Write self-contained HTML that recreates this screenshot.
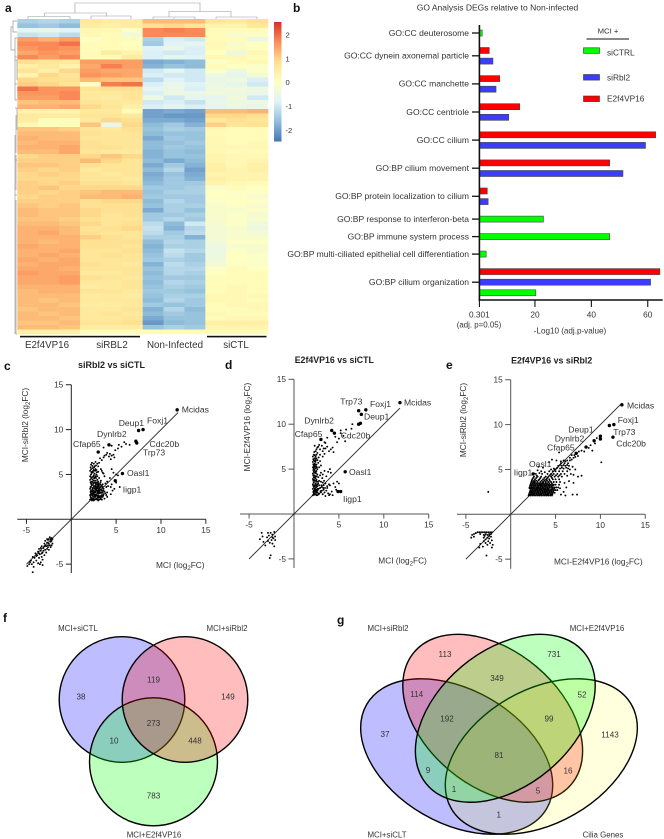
<!DOCTYPE html>
<html lang="en">
<head>
<meta charset="utf-8">
<title>Multi-panel transcriptomics figure</title>
<style>
html,body{margin:0;padding:0;background:#fff;}
svg{display:block;font-family:"Liberation Sans",Arial,sans-serif;filter:blur(.3px);}
text{fill:#333;}
.pl{font-size:12px;font-weight:bold;fill:#111;}
.g{font-size:8.6px;}
.t{font-weight:bold;fill:#222;}
.vl{font-size:7.9px;text-anchor:middle;}
.vn{font-size:8.1px;text-anchor:middle;fill:#333;}
.b{font-size:8.3px;}
</style>
</head>
<body>
<svg id="fig" width="664" height="839" viewBox="0 0 664 839" xmlns="http://www.w3.org/2000/svg">
<rect width="664" height="839" fill="#fff"/>

<!-- panel letters -->
<text class="pl" x="5" y="12">a</text>
<text class="pl" x="293" y="12">b</text>
<text class="pl" x="4" y="370">c</text>
<text class="pl" x="225" y="369">d</text>
<text class="pl" x="446" y="369">e</text>
<text class="pl" x="3" y="622">f</text>
<text class="pl" x="337" y="624">g</text>

<!-- panel a -->
<g id="heatmap"></g>
<g fill="none" stroke="#999" stroke-width="0.6">
<path d="M75 13V3H200V11.5M44.7 16.5V13H106.7V16.5M28 19V16.5H70V19M91 19V16H131V19M169 17V11.5H231V17M153 19V17H195V19M174 19V17.5M216 19V17H257V19"/>
</g>
<g fill="none" stroke="#999" stroke-width="0.7">
<path d="M17 21H13V32H17M13 27H11V50H15V38H17M15 57H17M15 60H17V80M15 50V100H17M15 84H17M15 108H17V130M16 115V153M16 155V190M15 135V195H17M15 160H17M16 200V334H17M15 195V334"/>
</g>
<defs>
<linearGradient id="cbar" x1="0" y1="1" x2="0" y2="0">
<stop offset="0" stop-color="#4575B4"/><stop offset="0.1667" stop-color="#91BFDB"/><stop offset="0.3333" stop-color="#E0F3F8"/><stop offset="0.5" stop-color="#FFFFBF"/><stop offset="0.6667" stop-color="#FEE090"/><stop offset="0.8333" stop-color="#FC8D59"/><stop offset="1" stop-color="#D73027"/>
</linearGradient>
</defs>
<rect x="274" y="22" width="7.5" height="119.5" fill="url(#cbar)"/>
<g id="cbar-ticks"></g>
<rect x="20" y="335.8" width="120" height="1.6" fill="#111"/>
<rect x="207" y="335.8" width="59.5" height="1.6" fill="#111"/>
<g font-size="9.8" text-anchor="middle">
<text x="47" y="348">E2f4VP16</text>
<text x="112" y="348">siRBL2</text>
<text x="175" y="348">Non-Infected</text>
<text x="236" y="348">siCTL</text>
</g>

<!-- panel b -->
<text x="497.5" y="10.5" font-size="8.5" text-anchor="middle">GO Analysis DEGs relative to Non-infected</text>
<g id="bars"></g>
<g>
<text x="608" y="33.5" font-size="7.7" text-anchor="middle">MCI +</text>
<line x1="586.5" y1="39" x2="629" y2="39" stroke="#111" stroke-width="1"/>
<rect x="583.5" y="47.8" width="16" height="5.6" fill="#0f0" stroke="#333" stroke-width="0.6"/>
<text x="607" y="55.5" class="b">siCTRL</text>
<rect x="583.5" y="74.5" width="16" height="5.6" fill="#3c3cff" stroke="#333" stroke-width="0.6"/>
<text x="607" y="80.5" class="b">siRbl2</text>
<rect x="583.5" y="96" width="16" height="5.6" fill="#f00" stroke="#333" stroke-width="0.6"/>
<text x="607" y="101.5" class="b">E2f4VP16</text>
</g>
<text x="479" y="327.5" font-size="7.9" text-anchor="middle">(adj. p=0.05)</text>
<text x="570" y="333.5" font-size="8.1" text-anchor="middle">-Log10 (adj.p-value)</text>

<!-- panel c -->
<text class="t" font-size="9" x="111.5" y="368" text-anchor="middle">siRbl2 vs siCTL</text>
<g id="scatter-c"></g>
<text class="b" transform="rotate(-90 28 425)" x="28" y="425" text-anchor="middle">MCI-siRbl2 (log<tspan font-size="6" dy="2">2</tspan><tspan dy="-2">FC)</tspan></text>
<text class="b" x="156" y="568">MCI (log<tspan font-size="6" dy="2">2</tspan><tspan dy="-2">FC)</tspan></text>
<g class="g">
<text x="181.7" y="412.3">Mcidas</text>
<text x="147" y="423.7">Foxj1</text>
<text x="118.7" y="426">Deup1</text>
<text x="97" y="437">Dynlrb2</text>
<text x="73" y="447">Cfap65</text>
<text x="149.5" y="447">Cdc20b</text>
<text x="143" y="455.7">Trp73</text>
<text x="127" y="476">Oasl1</text>
<text x="122.7" y="492.7">Iigp1</text>
</g>

<!-- panel d -->
<text class="t" font-size="8.8" x="334.3" y="363" text-anchor="middle">E2f4VP16 vs siCTL</text>
<g id="scatter-d"></g>
<text class="b" transform="rotate(-90 250 427)" x="250" y="427" text-anchor="middle">MCI-E2f4VP16 (log<tspan font-size="6" dy="2">2</tspan><tspan dy="-2">FC)</tspan></text>
<text class="b" x="378.3" y="563.7">MCI (log<tspan font-size="6" dy="2">2</tspan><tspan dy="-2">FC)</tspan></text>
<g class="g">
<text x="404" y="405.3">Mcidas</text>
<text x="370" y="407">Foxj1</text>
<text x="340.3" y="404.3">Trp73</text>
<text x="364" y="419.3">Deup1</text>
<text x="304.3" y="423.7">Dynlrb2</text>
<text x="340.7" y="438.3">Cdc20b</text>
<text x="294.7" y="437">Cfap65</text>
<text x="349" y="475">Oasl1</text>
<text x="343" y="502">Iigp1</text>
</g>

<!-- panel e -->
<text class="t" font-size="8.8" x="551.7" y="363.3" text-anchor="middle">E2f4VP16 vs siRbl2</text>
<g id="scatter-e"></g>
<text class="b" transform="rotate(-90 466 420)" x="466" y="420" text-anchor="middle">MCI-siRbl2 (log<tspan font-size="6" dy="2">2</tspan><tspan dy="-2">FC)</tspan></text>
<text class="b" x="554" y="564.7">MCI-E2f4VP16 (log<tspan font-size="6" dy="2">2</tspan><tspan dy="-2">FC)</tspan></text>
<g class="g">
<text x="627" y="408.3">Mcidas</text>
<text x="617.7" y="423">Foxj1</text>
<text x="613.3" y="435">Trp73</text>
<text x="616.3" y="446.3">Cdc20b</text>
<text x="568.3" y="432.7">Deup1</text>
<text x="554.7" y="441.3">Dynlrb2</text>
<text x="547" y="450.7">Cfap65</text>
<text x="529" y="467">Oasl1</text>
<text x="513.7" y="475.3">Iigp1</text>
</g>

<!-- panel f -->
<g>
<circle cx="122" cy="699.5" r="62.8" fill="rgba(0,0,255,.26)" stroke="#000" stroke-width="1.4"/>
<circle cx="153.5" cy="761.8" r="64" fill="rgba(0,255,0,.26)" stroke="#000" stroke-width="1.4"/>
<circle cx="185" cy="699.5" r="62.8" fill="rgba(255,0,0,.26)" stroke="#000" stroke-width="1.4"/>
<text class="vl" x="78" y="631">MCI+siCTL</text>
<text class="vl" x="227" y="631">MCI+siRbl2</text>
<text class="vl" x="154" y="837.5">MCI+E2f4VP16</text>
<text class="vn" x="81" y="699.7">38</text>
<text class="vn" x="153.5" y="682.7">119</text>
<text class="vn" x="228" y="699.7">149</text>
<text class="vn" x="153.5" y="726">273</text>
<text class="vn" x="114" y="743.7">10</text>
<text class="vn" x="195" y="743.7">448</text>
<text class="vn" x="153.5" y="798.7">783</text>
</g>

<!-- panel g -->
<g>
<ellipse cx="456.7" cy="756.5" rx="104" ry="66.7" transform="rotate(30 456.7 756.5)" fill="rgba(0,0,255,.26)" stroke="#000" stroke-width="1.4"/>
<ellipse cx="492.7" cy="718.3" rx="102.7" ry="67.7" transform="rotate(40 492.7 718.3)" fill="rgba(255,0,0,.26)" stroke="#000" stroke-width="1.4"/>
<ellipse cx="541.3" cy="756.5" rx="104" ry="66.7" transform="rotate(-30 541.3 756.5)" fill="rgba(255,255,0,.13)" stroke="#000" stroke-width="1.4"/>
<ellipse cx="505.3" cy="718.3" rx="102.7" ry="67.7" transform="rotate(-40 505.3 718.3)" fill="rgba(0,255,0,.26)" stroke="#000" stroke-width="1.4"/>
<text class="vl" x="388" y="631">MCI+siRbl2</text>
<text class="vl" x="597" y="631">MCI+E2f4VP16</text>
<text class="vl" x="387" y="837.5">MCI+siCLT</text>
<text class="vl" x="603" y="837.5">Cilia Genes</text>
<text class="vn" x="445" y="656.8">113</text>
<text class="vn" x="554" y="656.8">731</text>
<text class="vn" x="497" y="681.2">349</text>
<text class="vn" x="416.7" y="697.2">114</text>
<text class="vn" x="582" y="697.7">52</text>
<text class="vn" x="447" y="721.7">192</text>
<text class="vn" x="549" y="721.7">99</text>
<text class="vn" x="385" y="737.2">37</text>
<text class="vn" x="610" y="737.7">1143</text>
<text class="vn" x="499" y="757.8">81</text>
<text class="vn" x="428" y="773.2">9</text>
<text class="vn" x="568" y="773.7">16</text>
<text class="vn" x="454" y="792.2">1</text>
<text class="vn" x="538" y="793.7">5</text>
<text class="vn" x="498.7" y="817.7">1</text>
</g>
</svg>

<script>
// ---------- heatmap values (z-scores) ----------
const heatmapGroups = ['E2f4VP16','siRBL2','Non-Infected','siCTL'];
const colorbarTicks = [2,1,0,-1,-2];
const heatmapRows = [
[-1.4,-1.3,-1.4,.6,.5,.5,1.2,1.2,1.2,.7,.6,.8],
[-1.6,-1.5,-1.7,.5,.4,.5,.8,.9,.7,.3,.3,.6],
[-.7,-.6,-.8,.2,.2,-.1,1.7,1.8,1.7,.1,.1,.1],
[-1.1,-1,-1.2,.2,.1,-.4,1.7,1.7,1.7,.1,-.2,-.1],
[1.5,1.3,1.5,-.1,.1,.1,-1.4,-.9,-1,.1,.1,-.5],
[1.7,1.7,1.9,.1,.1,0,-1.5,-.8,-.7,.2,-.2,0],
[1.6,1.7,1.6,.1,.1,.1,-.8,-.6,-.9,.1,.1,0],
[1.4,1.6,1.5,.1,.5,.3,-.9,-1,-.9,0,-.5,.2],
[1.7,1.5,1.7,.1,.1,.5,-.9,-.7,-.8,.2,.2,.1],
[.8,.7,.6,1.5,1.5,1.5,-1.9,-1.8,-1.7,-.1,.1,.2],
[.4,.6,.3,1.4,1.8,1.5,-1.8,-1.6,-1.7,.1,0,-.1],
[.7,.4,.9,1.5,1.4,1.4,-1,-.7,-1,-.1,-.5,-.1],
[.3,.9,.7,1.6,1.5,1.4,-.9,-1,-1,-.5,-.7,-.3],
[.9,.8,.8,1.2,1.1,1.1,-1.2,-.8,-1,-.6,-.4,-.9],
[1,.9,.7,-.1,1.8,1.9,-.9,-.6,-.8,-.5,-.7,-1],
[1.9,1.6,1.6,.7,.8,.8,-.7,-.6,-.9,-.5,-.4,-.5],
[1.6,1.6,1.7,.6,.6,.7,-.9,-.5,-.6,-.4,-.5,-.6],
[1.5,1.5,1.7,.6,.5,.7,-.5,-1,-.7,-.7,-.4,-1],
[1.1,1.2,1.2,.7,.6,.6,-1,-.9,-1.1,-.6,-.5,-.5],
[1.3,1.3,1.4,.9,.7,.4,-.9,-.7,-.9,-.7,-.5,-.6],
[.3,.3,.3,.6,.6,.1,-2,-1.9,-2,1.2,1.2,1.3],
[.6,.5,.5,.7,.7,.6,-2,-2.1,-2.1,.9,.9,.8],
[.5,.1,.1,.6,.9,.8,-1.9,-1.9,-2,.6,.8,.7],
[.2,0,.1,1.1,-.6,.9,-1.7,-1.5,-1.8,1,.7,.8],
[1.1,1.1,1,.7,.6,.8,-1.6,-1.4,-1.5,.2,.1,.1],
[1.2,1.2,1.2,.8,.7,.7,-1.7,-1.6,-1.6,.1,.1,.1],
[1.3,1.2,1.2,.7,.7,.7,-1.9,-1.5,-1.6,.2,.1,.1],
[1.2,1.3,1.3,.8,.7,.7,-1.7,-1.6,-1.5,.2,.1,.2],
[1.3,1.3,1.4,.8,.8,.7,-1.7,-1.5,-1.6,.2,.2,.2],
[1.2,1.2,1.4,.7,.6,.6,-1.8,-1.6,-1.7,.2,.1,.1],
[.9,1,1,.9,1.1,.9,-1.8,-1.6,-1.6,.3,.2,.2],
[1,1,1,1.2,.9,.7,-1.7,-1.9,-1.7,.3,.2,.3],
[1.1,1.1,1,.8,.7,.7,-1.9,-1.5,-1.8,.4,.2,.4],
[1,.9,1,.6,.7,.7,-1.7,-1.3,-2,.4,.3,.4],
[.9,1,.9,.7,.6,.7,-1.9,-1.6,-1.9,.3,.3,.3],
[.9,.9,.9,.7,.7,.6,-1.8,-1.5,-1.8,.4,.3,.3],
[1,.9,1,.8,.8,.7,-1.7,-1.5,-1.5,.3,.2,.1],
[1,1.1,.9,.9,.9,.9,-1.5,-1.5,-1.4,-.2,.1,0],
[1,.9,1,1.1,1.2,1.2,-1.6,-1.4,-1.4,0,-.1,-.1],
[.9,1,1,1.2,1.2,1.3,-1.5,-1.5,-1.5,-.1,-.1,-.2],
[1,1,1,.8,.9,.9,-1.7,-1.3,-1.5,-.1,0,-.1],
[1.1,1,1.1,.8,.8,.8,-1.6,-1.4,-1.4,-.2,-.1,-.2],
[1.2,1.1,1.1,.9,.8,.8,-1.9,-1.4,-1.6,-.2,-.2,-.1],
[1.2,1.1,1.1,.9,.7,.8,-1.5,-1.5,-1.4,-.2,-.1,-.3],
[1.1,1.1,1,.8,.7,.7,-1.5,-1.3,-1.5,-.2,-.1,-.2],
[1.2,1.2,1.1,.9,.7,.8,-1.2,-1.7,-1,-.3,-.1,-.4],
[1.3,1.3,1.2,.7,.8,.9,-1.1,-1.8,-1.3,-.3,-.2,-.5],
[1.3,1.4,1.2,.8,.7,.7,-1.2,-1.5,-1.2,-.3,-.2,-.3],
[1.3,1.3,1.3,1,.8,.7,-1.4,-1.4,-1.8,-.3,-.2,-.2],
[1.3,1.2,1.3,.8,.8,.8,-1.7,-1.3,-1.4,-.4,-.1,-.1],
[1.4,1.3,1.3,.8,.8,.7,-1.8,-1.4,-1.4,-.5,-.2,-.2],
[1.3,1.3,1.4,.7,.7,.8,-1.7,-1.1,-1.3,-.5,-.1,-.2],
[1.3,1.4,1.3,.7,.8,.7,-1.6,-1.2,-1.5,-.5,0,-.1],
[1.4,1.3,1.4,.7,.7,.7,-1.5,-1.4,-1.5,-.4,0,-.1],
[1.3,1.4,1.4,.8,.7,.6,-1.8,-1.2,-1.4,-.3,-.1,-.1],
[1.4,1.4,1.3,.7,.7,.7,-1.6,-1.3,-1.3,-.1,.1,0],
[1.5,1.4,1.4,.6,.6,.7,-1.7,-1.3,-1.4,0,.1,.1],
[1.4,1.4,1.5,.8,.7,.6,-1.6,-1.5,-1.5,.1,.1,.1],
[1.4,1.4,1.5,.6,.6,.7,-1.7,-1.3,-1.4,.1,.1,.1],
[1.3,1.3,1.3,.5,.6,.7,-1.6,-1.4,-1.5,.1,.2,.1],
[1.2,1.3,1.3,.7,.7,.6,-1.5,-1.5,-1.6,.1,.2,.1],
[1.2,1.2,1.2,.5,.6,.5,-1.6,-1.4,-1.4,.2,.2,.2],
[1.2,1.1,1.2,.6,.6,.6,-1.7,-1.3,-1.5,.2,.2,.1],
[1.2,1.2,1.1,.5,.5,.6,-1.5,-1.6,-1.5,.1,.2,.2],
[1.1,1.2,1.2,.6,.6,.7,-1.8,-1.3,-1.7,.1,.1,.2],
[1.2,1.1,1.2,.6,.7,.6,-1.7,-1.5,-1.6,.2,.1,.1],
[1.2,1.2,1.1,.6,.6,.7,-1.9,-1.6,-1.6,.1,.2,.2],
[1.1,1.1,1.2,.7,.7,.8,-2.1,-1.7,-1.6,.4,.4,.4],
[1.2,1.2,1.1,.5,.5,.5,-1.6,-1.4,-1.5,.3,.3,.3],
[.4,.4,.4,.1,.1,.1,.1,.1,.1,.1,.1,.1]
];

// ---------- bar chart data ----------
const barCategories = ['GO:CC deuterosome','GO:CC dynein axonemal particle','GO:CC manchette','GO:CC centriole','GO:CC cilium','GO:BP cilium movement','GO:BP protein localization to cilium','GO:BP response to interferon-beta','GO:BP immune system process','GO:BP multi-ciliated epithelial cell differentiation','GO:BP cilium organization'];
const barE2f4 = [null,3.8,7.5,14.6,62.8,46.5,3.1,null,null,null,64.3];
const barSiRbl2 = [null,5.1,6.2,10.7,59.2,51.2,3.4,null,null,null,61];
const barSiCtrl = [1.3,null,null,null,null,null,null,23,46.5,2.7,20.3];
const barTickValues = [0.301,20,40,60];
const barTickLabels = ['0.301','20','40','60'];

// ---------- scatter data ----------
const scatterAxisTicks = [-5,5,10,15];
const yAxisTicks = [-5,5,10,15];

const cGenes = [[11.8,12.2],[8,10],[7.5,9.9],[7.2,8.7],[7.3,8.5],[4.2,8.3],[3,7.5],[5.7,5.1],[4.9,4.3]];
const cUp = [[2.1,2.2],[2.2,2.4],[2.3,2.1],[2.4,2.6],[2.5,2.3],[2.6,2.2],[2.7,2.5],[2.8,2.3],[2.9,2.6],[3,2.4],[3.1,2.2],[3.2,2.6],[3.3,2.4],[3.4,2.7],[3.5,2.5],[2.1,2.7],[2.2,2.9],[2.3,3.1],[2.4,2.9],[2.5,3.2],[2.6,2.8],[2.7,3],[2.8,3.3],[2.9,2.9],[3,3.2],[3.1,2.9],[3.2,3.3],[3.3,3],[3.4,3.2],[3.5,3],[3.6,2.8],[2.1,3.4],[2.2,3.6],[2.3,3.8],[2.4,3.5],[2.5,3.7],[2.6,3.4],[2.7,3.8],[2.8,3.6],[2.9,3.9],[3,3.5],[3.1,3.7],[3.2,3.9],[3.3,3.6],[3.4,3.8],[3.6,3.4],[3.7,3.1],[3.8,2.9],[2.2,2.2],[2.4,2.2],[2.6,2.5],[2.8,2.7],[3,2.7],[3.2,2.9],[2.3,2.7],[2.5,2.8],[2.7,2.7],[2.9,3.2],[3.1,3.3],[2.4,3.2],[2.2,4],[2.3,4.2],[2.1,4.4],[2.4,4.1],[2.5,4.3],[2.6,4.1],[2.7,4.3],[2.8,4.1],[2.9,4.4],[3,4.2],[3.3,4.3],[2.1,4.8],[2.2,5],[2.3,4.7],[2.4,5.2],[2.5,4.9],[2.6,5.1],[2.7,4.8],[2.8,5],[2.9,4.8],[3,5.3],[2.1,5.4],[2.2,5.6],[2.3,5.3],[2.4,5.7],[2.5,5.5],[2.6,5.9],[2.7,5.6],[2.8,5.5],[3,5.9],[2.2,6.1],[2.3,6.3],[2.5,6.2],[2.7,6.4],[2.9,6.2],[3.1,6.3],[3.3,5.6],[3.4,5.4],[3.5,5.2],[3.6,5.1],[3.7,4.8],[3.2,6.8],[3.4,6.6],[3.6,6.9],[3.7,7.1],[3.9,7.2],[4,7.4],[4.2,7],[4.3,7.3],[4.5,7.1],[4.7,7.2],[4.8,6.9],[4.4,6.7],[4.9,7.7],[5.2,7.9],[5.3,8.3],[5.6,8.1],[5.9,8.6],[6.1,8.4],[6.5,8.3],[3.6,8],[4.5,8.2],[4,4.2],[4.1,3.7],[4.4,3.6],[4.5,3.9],[5,4.1],[4.8,3.4],[4,3],[3.9,2.7],[4.4,2.8],[4.6,3.2],[5.4,3.6],[4.3,4.6],[4.7,5.2],[4.5,5.6],[5,5],[5.2,4.9],[3.9,3.6],[3.8,4],[4,2.5],[3.5,3.9],[3.7,2.3],[2.5,2.1],[3,2.1],[2.2,3.2],[2.6,3.1],[3,3],[2.9,2.2],[3.4,2.2],[2.3,2.3],[2.7,3.5],[3.5,3.6]];
const cUpDense = [[2.15,2.5],[2.35,2.35],[2.55,2.55],[2.75,2.25],[2.95,2.45],[3.15,2.45],[3.35,2.55],[3.55,2.65],[2.15,3.05],[2.35,2.85],[2.55,3],[2.75,3.15],[2.95,3.05],[3.15,3.1],[3.35,3.35],[3.55,3.2],[2.15,3.6],[2.35,3.35],[2.55,3.5],[2.75,3.3],[2.95,3.65],[3.15,3.5],[3.35,3.75],[2.25,3.85],[2.45,3.95],[2.65,3.7],[2.85,3.85],[3.05,3.95],[3.25,4.1],[2.15,4.15],[2.35,4.45],[2.55,4.55],[2.75,4.6],[2.95,4.1],[3.1,4.6],[2.2,4.6],[2.45,4.75],[2.65,4.7],[2.25,5.2],[2.45,5.4],[2.65,5.4],[2.85,5.25],[2.15,5.8],[2.35,5.95],[2.55,5.8],[2.75,6],[2.2,2.75],[2.6,2.65],[3,2.55],[3.4,2.95],[3.25,2.25],[2.85,3.45],[2.45,3.05],[3.05,3.4],[2.7,4],[3,3.8]];
const cDown = [[-2.2,-2.1],[-2.4,-2],[-2.6,-2.3],[-2.3,-2.5],[-2.5,-2.7],[-2.7,-2.6],[-2.9,-2.4],[-2.2,-2.4],[-2.4,-2.9],[-2.8,-3],[-3,-2.7],[-3.1,-3.2],[-2.6,-3.1],[-2.9,-3.4],[-3.3,-3],[-3.4,-3.5],[-3.2,-3.7],[-2.8,-3.7],[-3.6,-3.3],[-3.5,-3.9],[-3.7,-3.6],[-3,-4],[-3.3,-4.2],[-3.8,-4],[-3.6,-4.3],[-3.2,-4.5],[-3.4,-4.8],[-4,-3.8],[-4.1,-4.3],[-3.9,-4.6],[-3.7,-4.9],[-4.3,-4.2],[-4.2,-4.8],[-4.5,-4.6],[-4.4,-5],[-3.5,-5],[-3.2,-5.1],[-4.7,-5],[-4.2,-5.3],[-4.9,-5.2],[-4.3,-5.9],[-2.1,-2.7],[-2.3,-3.1],[-2.1,-2.2],[-2.5,-2.2],[-2.7,-2.2],[-2.2,-2.9],[-2.5,-3.4],[-3,-3],[-2.7,-3.3],[-3.4,-3.2],[-3.1,-3.5],[-2.9,-2.9],[-3.6,-3.8],[-3.9,-4.1],[-2.6,-2.9],[-2.3,-2.2],[-3.3,-3.8],[-4.6,-4.8]];

const dGenes = [[11.8,12.4],[8,11.6],[7.2,11.5],[7.5,11.1],[7.2,10],[7.4,10.1],[4.2,9.3],[4.5,9],[3,8.3],[5.7,4.7],[4.9,2.5],[5.2,2.5]];
const dUp = [[2.1,2.1],[2.2,2.3],[2.3,2.5],[2.4,2.2],[2.5,2.7],[2.6,2.4],[2.1,2.8],[2.2,3],[2.3,2.2],[2.4,2.9],[2.5,2.1],[2.6,3.1],[2.8,2.3],[3,2.4],[3.2,2.2],[3.4,2.4],[3.6,2.6],[3.8,2.3],[4,2.2],[4.2,2.5],[2.7,2.8],[2.9,2.9],[3.1,3],[3.3,3.2],[3.5,3.4],[3.7,3.1],[3.9,3.3],[2.1,3.3],[2.2,3.5],[2.3,3.7],[2.4,3.4],[2.5,3.6],[2.6,3.3],[2.8,3.7],[3,3.6],[2.1,3.9],[2.2,4.1],[2.3,4.3],[2.4,4],[2.5,4.2],[2.6,4.4],[2.7,4.1],[2.9,4.3],[3,4.6],[3.2,4.4],[3.4,4.8],[3.6,4.2],[3.8,4.7],[4,5],[4.1,4.6],[2.1,4.5],[2.2,4.7],[2.3,4.9],[2.4,5.1],[2.5,4.8],[2.6,5],[2.8,5.2],[2.1,5.2],[2.2,5.4],[2.3,5.6],[2.4,5.8],[2.5,5.5],[2.1,5.8],[2.2,6],[2.3,6.2],[2.4,6.4],[2.1,6.4],[2.2,6.6],[2.5,6.2],[2.6,6],[2.7,5.7],[2.9,5.9],[3,5.4],[2.4,7],[2.5,7.2],[2.7,7.5],[2.9,7.2],[2.6,6.8],[2.3,7.6],[2.9,6.6],[3.2,6.4],[3.4,6.7],[3.2,7],[3.5,7.3],[3.7,7.5],[3.9,7],[4.1,7.2],[4.3,7.4],[4.4,6.9],[3.5,7.9],[3.7,8.5],[3.4,8],[4.6,8.6],[4.8,8],[5,8.4],[5.2,9],[5.5,8.7],[5.8,9.4],[5.7,8.1],[6.4,9.5],[6.5,10],[5.2,9.3],[4,3.2],[4.4,3.4],[4.6,3],[4.8,3.6],[5,3.4],[4.7,2.7],[3.3,2.7],[3.5,2],[3.9,2.1],[4.3,2.1],[2.8,3.2],[3.2,3.5],[2.3,3.1],[2.4,2.6],[2.2,2.6],[2.6,2.1],[2.3,2.8],[2.2,3.8],[2.4,3.7],[2.3,4.6],[2.2,5.1],[2.3,5.3],[2.4,6],[2.6,2.6],[2.5,3.2],[3.7,2.9],[3.1,2.6],[2.7,3.4]];
const dUpDense = [[2.15,2.45],[2.25,2.15],[2.35,2.7],[2.45,2.45],[2.55,2.35],[2.65,2.8],[2.75,2.2],[2.15,3.15],[2.35,3.25],[2.5,3],[2.65,3.6],[2.15,3.7],[2.35,3.95],[2.5,3.8],[2.15,4.3],[2.35,4.15],[2.45,4.55],[2.15,4.9],[2.25,5.25],[2.4,4.7],[2.55,5.2],[2.15,5.55],[2.35,5.5],[2.15,6.1],[2.3,5.85],[2.45,5.3],[2.3,6.55],[2.5,6.6],[2.75,6.3],[2.25,6.9],[2.6,7.4],[2.8,7.7],[3.1,7.6],[3.3,7.3],[3.05,3.2],[3.25,2.9],[2.95,2.55],[3.45,2.9],[3.15,4],[3.35,3.7]];
const dDown = [[-2.2,-2],[-2.4,-2.3],[-2.6,-2.1],[-2.8,-2.4],[-3,-2.6],[-2.3,-2.7],[-2.5,-2.9],[-2.1,-2.5],[-3.5,-2.5],[-3.6,-2.1],[-3.8,-2.8],[-3.4,-3.1],[-2.9,-3],[-2.4,-3.3],[-2.2,-3.6],[-2.7,-3.2],[-2.6,-4.6],[-2.7,-4.9],[-3.2,-3.5],[-2.1,-2.9],[-2.9,-2.1],[-2.4,-2.6]];

const eGenes = [[12.4,12.2],[11.5,10],[11,9.9],[11.4,8.6],[10,8.7],[10,8.4],[9.3,8.2],[8.4,7.5],[7.3,6.8],[2.5,4.5]];
const eUp = [[2,2.1],[2.2,2.1],[2.4,2.1],[2.6,2.1],[2.8,2.1],[3,2.1],[3.2,2.1],[3.4,2.1],[3.6,2.1],[3.8,2.1],[4,2.1],[4.2,2.1],[4.4,2.1],[4.6,2.1],[2.1,2.4],[2.3,2.4],[2.5,2.4],[2.7,2.4],[2.9,2.4],[3.1,2.4],[3.3,2.4],[3.5,2.4],[3.7,2.4],[3.9,2.4],[4.1,2.4],[4.3,2.4],[4.5,2.4],[4.7,2.4],[4.9,2.4],[2.2,2.7],[2.4,2.7],[2.6,2.7],[2.8,2.7],[3,2.7],[3.2,2.7],[3.4,2.7],[3.6,2.7],[3.8,2.7],[4,2.7],[4.2,2.7],[4.4,2.7],[4.6,2.7],[4.8,2.7],[5,2.7],[5.2,2.7],[2.1,3],[2.3,3],[2.5,3],[2.7,3],[2.9,3],[3.1,3],[3.3,3],[3.5,3],[3.7,3],[3.9,3],[4.1,3],[4.3,3],[4.5,3],[4.7,3],[4.9,3],[5.1,3],[5.3,3],[2.2,3.3],[2.4,3.3],[2.6,3.3],[2.8,3.3],[3,3.3],[3.2,3.3],[3.4,3.3],[3.6,3.3],[3.8,3.3],[4,3.3],[4.2,3.3],[4.4,3.3],[4.6,3.3],[4.8,3.3],[5,3.3],[5.4,3.3],[2.3,3.6],[2.5,3.6],[2.7,3.6],[3,3.6],[3.3,3.6],[3.6,3.6],[3.9,3.6],[4.2,3.6],[4.5,3.6],[4.8,3.6],[5.1,3.6],[5.5,3.6],[2.4,3.9],[2.7,3.9],[3.2,3.9],[3.6,3.9],[4,3.9],[4.3,3.9],[4.7,3.9],[5,3.9],[5.4,3.9],[2.6,4.2],[3,4.2],[3.4,4.2],[3.9,4.2],[4.2,4.2],[4.5,4.2],[4.9,4.2],[5.3,4.2],[5.7,4.2],[2.8,4.5],[3.5,4.5],[4.1,4.5],[4.5,4.5],[4.8,4.5],[5.2,4.5],[5.6,4.5],[6,4.5],[4.3,4.8],[4.7,4.8],[5,4.8],[5.4,4.8],[5.8,4.8],[6.3,4.8],[4.8,5.1],[5.1,5.1],[5.5,5.1],[5.9,5.1],[6.4,5.1],[3.6,5.2],[3.1,5.3],[5.3,5.4],[5.7,5.4],[6.1,5.4],[6.5,5.4],[5.6,5.7],[6,5.7],[6.4,5.7],[5.1,6],[5.9,6],[6.3,6],[6.6,6],[6.6,6.3],[7,6.3],[6.8,6.6],[7.2,6.4],[7.5,6.5],[7.6,7],[7.9,7.1],[8.2,7],[8.7,7.4],[8.9,7.7],[9.1,7.1],[9.6,8.5],[9.4,7.9],[4.3,5.8],[4.6,6.1],[3.4,4.8],[3,4.9],[5.4,6.9],[6.6,5],[6.9,5.3],[7.2,5],[6.3,4.3],[6.7,4.5],[7,4.4],[7.5,4.2],[7.9,4.3],[6,3.5],[6.5,3.7],[7,3.5],[6.2,3],[5.9,2.5],[5.6,2.2],[6.1,2.1],[6.9,2.2],[7.4,2.2],[5.5,2.9],[10.1,5.8],[2.1,2.2],[2.2,2.5],[2.6,2.2],[3,2.5],[3.4,2.2],[3.8,2.5],[4.2,2.2],[2.4,2.9],[2.9,2.8],[3.3,2.8],[3.7,2.8],[4.1,2.8],[4.5,2.8],[2.3,3.2],[2.7,3.2],[3.1,3.2],[3.5,3.2],[3.9,3.2],[4.3,3.2],[4.7,3.2],[2.1,2.9],[2.5,3.5],[3.1,3.8],[3.8,3.8]];
const eUpDense = [[2.05,2.25],[2.25,2.25],[2.45,2.25],[2.65,2.3],[2.85,2.25],[3.05,2.25],[3.25,2.25],[3.45,2.3],[3.65,2.25],[3.85,2.25],[4.05,2.25],[4.25,2.35],[4.45,2.25],[4.65,2.25],[2.15,2.55],[2.35,2.55],[2.55,2.55],[2.75,2.55],[2.95,2.55],[3.15,2.55],[3.35,2.55],[3.55,2.55],[3.75,2.55],[3.95,2.55],[4.15,2.55],[4.35,2.55],[4.55,2.55],[4.75,2.55],[2.25,2.85],[2.45,2.85],[2.65,2.85],[2.85,2.85],[3.05,2.85],[3.25,2.85],[3.45,2.85],[3.65,2.85],[3.85,2.85],[4.05,2.85],[4.25,2.85],[4.65,2.85],[4.85,2.85],[2.15,3.15],[2.35,3.15],[2.55,3.15],[2.75,3.15],[2.95,3.15],[3.15,3.15],[3.35,3.15],[3.55,3.15],[3.75,3.15],[3.95,3.15],[4.15,3.15],[4.35,3.15],[4.55,3.15],[2.25,3.45],[2.45,3.45],[2.65,3.45],[2.85,3.45],[3.05,3.45],[3.25,3.45],[3.45,3.45],[3.65,3.45],[3.85,3.45],[4.05,3.45],[4.3,3.45],[4.6,3.45],[2.35,3.75],[2.6,3.75],[2.85,3.75],[3.45,3.75],[3.75,3.75],[4.05,3.75],[4.35,3.75],[2.5,4.05],[2.85,4.05],[3.3,4.05],[3.75,4.05],[4.1,4.05],[4.6,4.05],[4.35,4.35],[4.65,4.35],[5.05,4.35],[5.45,4.35],[2.6,4.55],[2.9,4.3],[3.2,4.6],[3.8,4.7],[4.5,5],[5.2,5.2],[5.7,5.2],[6.2,5.2],[4.9,5],[5.6,5.9],[6.1,5.9],[5.5,5.5],[5.9,5.5],[6.3,5.5],[6.8,6.1],[7.1,6.6],[7.4,6.8]];
const eStray = [[-2.5,2.5]];
const eDown = [[-2.1,-2],[-2.3,-2],[-2.5,-2],[-2.7,-2],[-2.9,-2],[-3.1,-2],[-3.3,-2],[-3.5,-2],[-3.7,-2],[-2.2,-2.2],[-2.4,-2.2],[-2.6,-2.3],[-2.8,-2.2],[-3.9,-2.1],[-4.1,-2.2],[-4.3,-2.3],[-4.1,-2.5],[-4.4,-2.6],[-3.4,-2.2],[-3,-2.3],[-2.2,-2.5],[-2.4,-2.7],[-2.6,-2.6],[-2.8,-2.8],[-3,-2.6],[-2.1,-2.9],[-2.5,-3],[-2.8,-3.2],[-2.3,-3.2],[-2,-3.4],[-3.4,-3.3],[-3.1,-3.6],[-3.5,-3.7],[-2.1,-3.7],[-2.6,-3.4],[-2.7,-4.6],[-3,-3],[-2.4,-2.4],[-2.9,-2.4]];

// ---------- drawing helpers ----------
const SVGNS = 'http://www.w3.org/2000/svg';
function mk(tag, parent, attrs, text){
  const el = document.createElementNS(SVGNS, tag);
  for (const k in attrs) el.setAttribute(k, attrs[k]);
  if (text !== undefined) el.textContent = text;
  parent.appendChild(el);
  return el;
}
const heatStops = [[-2.5,[69,117,180]],[-1.667,[145,191,219]],[-0.833,[224,243,248]],[0,[255,255,191]],[0.833,[254,224,144]],[1.667,[252,141,89]],[2.5,[215,48,39]]];
function heatColor(v){
  for (let i = 0; i < heatStops.length - 1; i++){
    const a = heatStops[i], b = heatStops[i+1];
    if (v <= b[0]){
      const t = Math.max(0,(v-a[0])/(b[0]-a[0]));
      return 'rgb(' + a[1].map((c,j)=>Math.round(c+(b[1][j]-c)*t)).join(',') + ')';
    }
  }
  return 'rgb(215,48,39)';
}

// ---------- panel a ----------
(function(){
  const g = document.getElementById('heatmap');
  const x0 = 17.3, y0 = 19, w = 250.7 / 12, h = 315 / heatmapRows.length;
  heatmapRows.forEach((row, r) => {
    row.forEach((v, c) => {
      const cell = mk('rect', g, {x: x0 + c*w, y: y0 + r*h, width: w + 0.3, height: h + 0.3, fill: heatColor(v)});
      
      
    });
  });
  const tg = document.getElementById('cbar-ticks');
  colorbarTicks.forEach(v => {
    const t = mk('text', tg, {x: 285.5, y: 82.5 - v*23.8 + 2.7, 'font-size': 7.6}, String(v));
    
    
  });
})();

// ---------- panel b ----------
(function(){
  const g = document.getElementById('bars');
  const sx = v => 479.4 + (v - 0.301) * 2.82;
  const series = [[barE2f4,'#f00'],[barSiRbl2,'#3c3cff'],[barSiCtrl,'#0f0']];
  let y = 33;
  barCategories.forEach((cat, i) => {
    const ys = [];
    series.forEach(s => {
      const v = s[0][i];
      if (v === null) return;
      const bar = mk('rect', g, {x: sx(0.301), y: y - 3, width: sx(v) - sx(0.301), height: 6, fill: s[1], stroke: '#444', 'stroke-width': 0.6});
      
      
      ys.push(y);
      y += 10.6;
    });
    y += 6.9;
    const cy = (ys[0] + ys[ys.length-1]) / 2;
    const mid = ys.length === 3 ? ys[1] : (ys.length === 2 ? cy : ys[0]);
    const tick = mk('line', g, {x1: 472, x2: 479.4, y1: mid, y2: mid, stroke: '#111', 'stroke-width': 1.3});
    
    
    const lab = mk('text', g, {x: 469, y: mid + 2.8, 'text-anchor': 'end', 'font-size': 8.55}, cat);
    
    
  });
  const ya = mk('line', g, {x1: 479.4, x2: 479.4, y1: 25, y2: 300.5, stroke: '#111', 'stroke-width': 1.6});
  
  
  const xa = mk('line', g, {x1: 478.6, x2: 662.7, y1: 300, y2: 300, stroke: '#111', 'stroke-width': 1.4});
  
  
  barTickValues.forEach((v, i) => {
    const tk = mk('line', g, {x1: sx(v), x2: sx(v), y1: 300, y2: 307, stroke: '#111', 'stroke-width': 1.1});
    
    
    const tl = mk('text', g, {x: sx(v), y: 317.5, 'text-anchor': 'middle', 'font-size': 8.3}, barTickLabels[i]);
    
    
  });
})();

// ---------- panels c, d, e ----------
function scatter(id, ax, sets, diagEnd){
  const g = document.getElementById(id);
  const sx = v => ax.x0 + v * ax.ux;
  const sy = v => ax.y0 - v * ax.uy;
  const xl = mk('line', g, {x1: ax.xmin, x2: sx(15), y1: ax.y0, y2: ax.y0, stroke: ax.c, 'stroke-width': 1});
  
  
  const yl = mk('line', g, {x1: ax.x0, x2: ax.x0, y1: sy(15), y2: ax.ymax, stroke: ax.c, 'stroke-width': 1});
  
  
  scatterAxisTicks.forEach(v => {
    const t = mk('line', g, {x1: sx(v), x2: sx(v), y1: ax.y0, y2: ax.y0 + 4.5, stroke: ax.c, 'stroke-width': 1});
    
    
    const l = mk('text', g, {x: sx(v), y: ax.y0 + 13.5, 'text-anchor': 'middle', 'font-size': 8.3}, String(v));
    
    
  });
  yAxisTicks.forEach(v => {
    const t = mk('line', g, {x1: ax.x0 - 5.5, x2: ax.x0, y1: sy(v), y2: sy(v), stroke: ax.c, 'stroke-width': 1});
    
    
    const l = mk('text', g, {x: ax.x0 - 8, y: sy(v) + 2.9, 'text-anchor': 'end', 'font-size': 8.3}, String(v));
    
    
  });
  const diag = mk('line', g, {x1: sx(-5), y1: sy(-5), x2: sx(diagEnd), y2: sy(diagEnd), stroke: '#222', 'stroke-width': 0.9});
  
  
  sets.small.forEach(arr => arr.forEach(p => {
    const d = mk('circle', g, {cx: sx(p[0]), cy: sy(p[1]), r: 0.95, fill: '#000'});
    
    
  }));
  sets.big.forEach(p => {
    const d = mk('circle', g, {cx: sx(p[0]), cy: sy(p[1]), r: 1.7, fill: '#000'});
    
    
  });
}
scatter('scatter-c', {x0:71.3, y0:519.3, ux:8.97, uy:8.97, xmin:17.3, ymax:573, c:'#222'}, {small:[cUp,cUpDense,cDown], big:cGenes}, 11.9);
scatter('scatter-d', {x0:294, y0:514, ux:8.98, uy:8.98, xmin:240, ymax:568, c:'#555'}, {small:[dUp,dUpDense,dDown], big:dGenes}, 11.8);
scatter('scatter-e', {x0:510.7, y0:514.3, ux:8.97, uy:8.97, xmin:457, ymax:568.7, c:'#555'}, {small:[eUp,eUpDense,eDown,eStray], big:eGenes}, 12.4);
</script>
</body>
</html>
